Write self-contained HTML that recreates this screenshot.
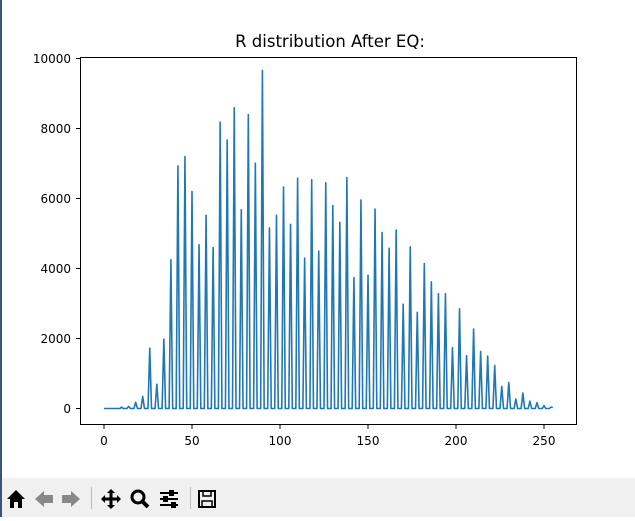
<!DOCTYPE html>
<html><head><meta charset="utf-8">
<style>
body{margin:0;width:635px;height:517px;overflow:hidden;background:#fff;font-family:"DejaVu Sans","Liberation Sans",sans-serif;position:relative}
#border{position:absolute;left:0;top:0;width:2px;height:517px;background:#3a5578}
#toolbar{position:absolute;left:2px;top:478px;width:633px;height:39px;background:#f0f0f0}
</style></head>
<body>
<div id="border"></div>
<svg id="chart" width="635" height="478" style="position:absolute;left:0;top:0">
  <text x="330" y="47" text-anchor="middle" font-size="16.5" fill="#000" font-family="DejaVu Sans, sans-serif">R distribution After EQ:</text>
  <g id="plot"></g>
  <rect x="80.5" y="57.5" width="496" height="367" fill="none" stroke="#000" stroke-width="1"/>
</svg>
<div id="toolbar">
<svg width="633" height="39">
  <g transform="translate(14,21)"><path d="M-9,0 L0,-9 L9,0 L6,0 L6,9 L2,9 L2,3 L-2,3 L-2,9 L-6,9 L-6,0Z" fill="#000"/></g>
  <g transform="translate(42,21)"><path d="M-9,0 L0,-8 L0,-4 L9,-4 L9,4 L0,4 L0,8Z" fill="#888"/></g>
  <g transform="translate(69,21)"><path d="M9,0 L0,-8 L0,-4 L-9,-4 L-9,4 L0,4 L0,8Z" fill="#888"/></g>
  <rect x="89" y="9" width="1" height="22" fill="#bbb"/>
  <g transform="translate(109,21)"><path d="M0,-10 L4,-6 L1.5,-6 L1.5,-1.5 L6,-1.5 L6,-4 L10,0 L6,4 L6,1.5 L1.5,1.5 L1.5,6 L4,6 L0,10 L-4,6 L-1.5,6 L-1.5,1.5 L-6,1.5 L-6,4 L-10,0 L-6,-4 L-6,-1.5 L-1.5,-1.5 L-1.5,-6 L-4,-6Z" fill="#000"/></g>
  <g transform="translate(138,21)"><circle cx="-2" cy="-2" r="6" fill="none" stroke="#000" stroke-width="3"/><path d="M2,2 L8,8" stroke="#000" stroke-width="4"/></g>
  <g transform="translate(167,21)" stroke="#000" stroke-width="2"><path d="M-9,-6H9M-9,0H9M-9,6H9"/><rect x="1" y="-8" width="3" height="4" fill="#000"/><rect x="-5" y="-2" width="3" height="4" fill="#000"/><rect x="3" y="4" width="3" height="4" fill="#000"/></g>
  <rect x="188" y="9" width="1" height="22" fill="#bbb"/>
  <g transform="translate(205,21)"><rect x="-8" y="-8" width="16" height="16" fill="none" stroke="#000" stroke-width="2"/><rect x="-4" y="-8" width="8" height="5" fill="none" stroke="#000" stroke-width="1.5"/><rect x="-5" y="2" width="10" height="6" fill="none" stroke="#000" stroke-width="1.5"/></g>
</svg>
</div>
<script>
const peakIdx = [10,14,18,22,26,30,34,38,42,46,50,54,58,62,66,70,74,78,82,86,90,94,98,102,106,110,114,118,122,126,130,134,138,142,146,150,154,158,162,166,170,174,178,182,186,190,194,198,202,206,210,214,218,222,226,230,234,238,242,246,250,254];
const peakVal = [40,60,180,345,1720,690,1980,4250,6930,7200,6200,4680,5520,4600,8180,7670,8590,5680,8400,7010,9660,5160,5520,6330,5260,6580,4300,6540,4500,6450,5800,5320,6600,3740,5960,3810,5700,5030,4580,5100,2980,4620,2750,4140,3620,3280,3280,1740,2850,1510,2270,1630,1500,1230,630,740,270,440,210,170,80,40];
const xTicks = [0,50,100,150,200,250];
const yTicks = [0,2000,4000,6000,8000,10000];
const NS='http://www.w3.org/2000/svg';
const xs = v => 104 + v*1.76;
const ys = v => 408.5 - v*0.035;
const g = document.getElementById('plot');
const series = new Array(256).fill(0);
peakIdx.forEach((i,k)=>{ series[i]=peakVal[k]; });
series[255]=30;
const pts = series.map((v,i)=>xs(i).toFixed(2)+','+ys(v).toFixed(2)).join(' ');
const pl = document.createElementNS(NS,'polyline');
pl.setAttribute('points',pts);
pl.setAttribute('fill','none');
pl.setAttribute('stroke','#1f77b4');
pl.setAttribute('stroke-width','1.6');
pl.setAttribute('stroke-linejoin','round');


g.appendChild(pl);
xTicks.forEach(t=>{
  const l=document.createElementNS(NS,'line');
  l.setAttribute('x1',xs(t));l.setAttribute('x2',xs(t));l.setAttribute('y1',425);l.setAttribute('y2',429);l.setAttribute('stroke','#000');
  
  
  g.appendChild(l);
  const tx=document.createElementNS(NS,'text');
  tx.setAttribute('x',xs(t));tx.setAttribute('y',445);tx.setAttribute('text-anchor','middle');tx.setAttribute('font-size','12');
  tx.textContent=t;
  
  
  g.appendChild(tx);
});
yTicks.forEach(t=>{
  const l=document.createElementNS(NS,'line');
  l.setAttribute('x1',76);l.setAttribute('x2',80);l.setAttribute('y1',ys(t));l.setAttribute('y2',ys(t));l.setAttribute('stroke','#000');
  
  
  g.appendChild(l);
  const tx=document.createElementNS(NS,'text');
  tx.setAttribute('x',71);tx.setAttribute('y',ys(t)+4.5);tx.setAttribute('text-anchor','end');tx.setAttribute('font-size','12');
  tx.textContent=t;
  
  
  g.appendChild(tx);
});
</script>
</body></html>
